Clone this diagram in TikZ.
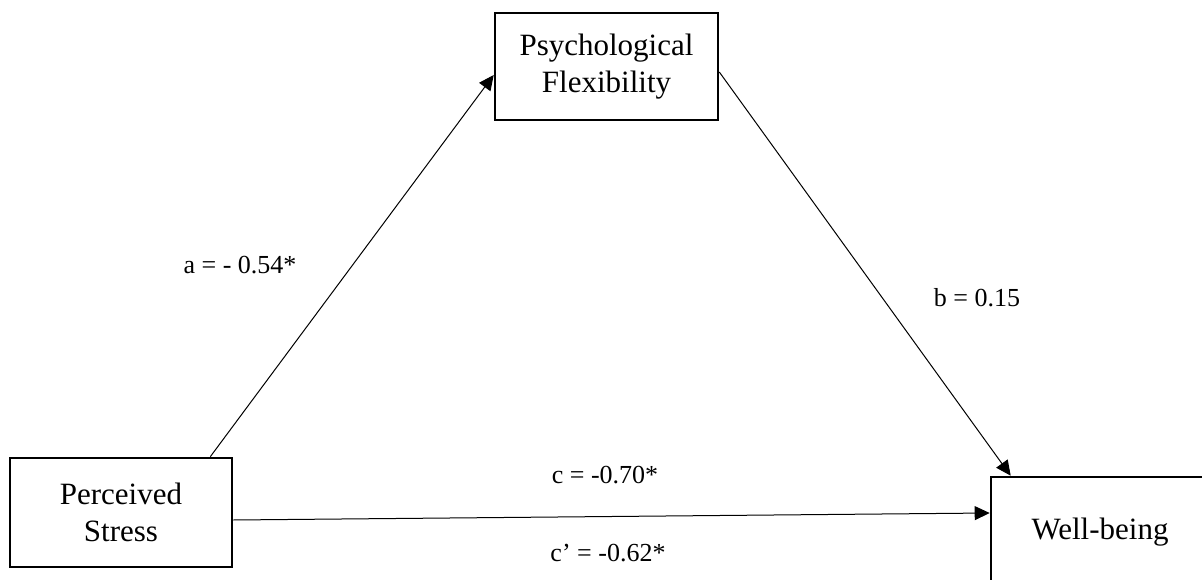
\documentclass[tikz,border=0pt]{standalone}
\usepackage{fontspec}
\setmainfont{Liberation Serif}
\usetikzlibrary{arrows.meta}
\tikzset{
  varbox/.style={draw, line width=2.6pt, rectangle, align=center, inner sep=0pt,
    font=\fontsize{31}{37}\selectfont},
  pathlabel/.style={font=\fontsize{26}{30}\selectfont, inner sep=0pt},
  effect/.style={line width=1pt, -{Triangle[length=15pt,width=14pt]}}
}
\begin{document}
\begin{tikzpicture}[x=1pt,y=-1pt]
\useasboundingbox (0,0) rectangle (1202,580);
\node[varbox, minimum width=222pt, minimum height=109pt] (PS) at (121,512.5) {Perceived\\Stress};
\node[varbox, minimum width=223pt, minimum height=107pt] (PF) at (606.5,66.5) {Psychological\\Flexibility};
\node[varbox, minimum width=218pt, minimum height=110pt] (WB) at (1100,532) {Well-being};
\draw[effect] ([xshift=-23pt]PS.north east) -- ([yshift=-8.5pt]PF.west);
\draw[effect] ([yshift=-5.5pt]PF.east) -- ([xshift=21pt]WB.north west);
\draw[effect] ([yshift=-7.5pt]PS.east) -- ([yshift=19pt]WB.west);
\node[pathlabel] (la) at (240,265) {a = - 0.54*};
\node[pathlabel] (lb) at (977,298) {b = 0.15};
\node[pathlabel] (lc) at (605,475) {c = -0.70*};
\node[pathlabel] (lcp) at (608,553) {c’ = -0.62*};
\end{tikzpicture}
\end{document}
